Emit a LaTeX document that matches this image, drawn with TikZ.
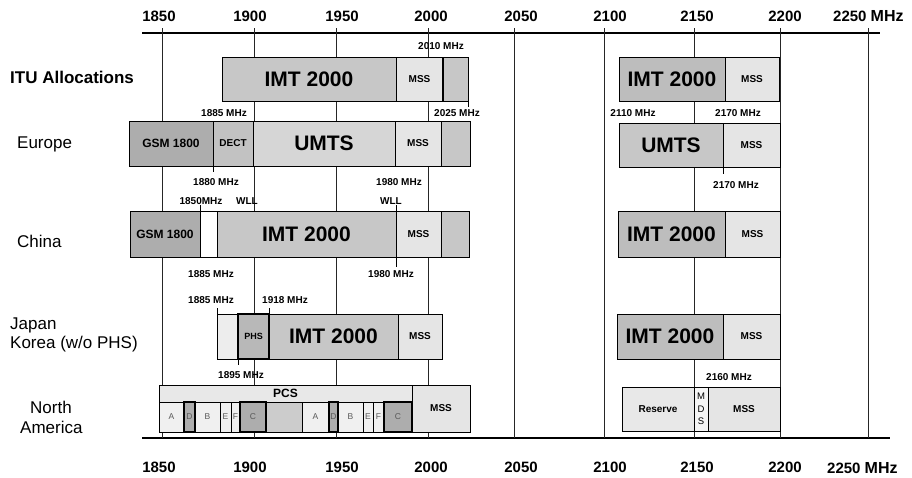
\documentclass[tikz,border=0pt]{standalone}
\usepackage{fontspec}
\setmainfont{Liberation Sans}
\newcommand\bandnode[7]{\node[band,#2,minimum width={#4-#3},minimum height={#6-#5}] (#1) at ({(#3+#4)/2},{(#5+#6)/2}) {#7};}
\begin{document}
\begin{tikzpicture}[x=1pt,y=-1pt,
  band/.style={draw=black,line width=0.8pt,inner sep=0pt,outer sep=0pt,font=\bfseries,align=center},
  bigtxt/.style={font=\fontsize{21}{21}\selectfont\bfseries},
  midtxt/.style={font=\fontsize{12}{12}\selectfont\bfseries},
  smltxt/.style={font=\fontsize{10}{10}\selectfont\bfseries},
  tinytxt/.style={font=\fontsize{8.5}{8.5}\selectfont, text=black!65},
  freq/.style={font=\fontsize{10}{10}\selectfont\bfseries, inner sep=0pt},
  axl/.style={font=\fontsize{15}{15}\selectfont\bfseries, inner sep=0pt},
  rowl/.style={font=\fontsize{17}{17}\selectfont, anchor=base west, inner sep=0pt},
  gridline/.style={line width=0.8pt, black!85},
  axisline/.style={line width=1.3pt},
  sepline/.style={line width=1.6pt},
  tickline/.style={line width=0.6pt},
  fimt/.style={fill=black!22},
  fimtr/.style={fill=black!26},
  fmss/.style={fill=black!10},
  fend/.style={fill=black!22},
  fgsm/.style={fill=black!32},
  fdect/.style={fill=black!24},
  fumts/.style={fill=black!16},
  fwhite/.style={fill=white},
  fphs/.style={fill=black!28},
  flight/.style={fill=black!7},
  fpcs/.style={fill=black!9},
  nal/.style={fill=black!6},
  nad/.style={fill=black!32, line width=1.1pt},
  nam/.style={fill=black!20},
]
\useasboundingbox (0,0) rectangle (912,477);
\fill[white] (0,0) rectangle (912,477);

% axes
\coordinate (axTL) at (142,33); \coordinate (axTR) at (880,33);
\coordinate (axBL) at (142,438); \coordinate (axBR) at (890,438);
\draw[axisline] (axTL) -- (axTR);
\draw[axisline] (axBL) -- (axBR);
\foreach \n/\x in {1850/162,1900/254,1950/336,2000/428,2050/514,2100/604,2150/694,2200/780,2250/868}{
  \coordinate (gt\n) at (\x,28);
  \coordinate (gb\n) at (\x,438);
  \draw[gridline] (gt\n) -- (gb\n);
}
\foreach \n/\x in {1850/159,1900/250,1950/342,2000/431,2050/521,2100/610,2150/697,2200/785}{
  \node[axl] (lt\n) at (\x,16) {\n};
  \node[axl] (lb\n) at (\x,467.5) {\n};
}
\node[axl,anchor=base west] (lt2250) at (833,21) {2250 {\fontsize{16}{16}\selectfont MHz}};
\node[axl,anchor=base west] (lb2250) at (827,473) {2250 {\fontsize{16}{16}\selectfont MHz}};

% row labels
\node[rowl] (rITU) at (10,83) {\bfseries ITU Allocations};
\node[rowl] (rEU) at (17,148) {Europe};
\node[rowl] (rCN) at (17,247) {China};
\node[rowl] (rJP) at (10,329) {Japan};
\node[rowl] (rKR) at (10,348) {Korea (w/o PHS)};
\node[rowl] (rNA1) at (30,413) {North};
\node[rowl] (rNA2) at (20,433) {America};

% ITU
\bandnode{itu1}{fimt,bigtxt}{222}{396}{57}{101}{IMT 2000}
\bandnode{itu2}{fmss,smltxt}{396}{443}{57}{101}{MSS}
\bandnode{itu3}{fend}{443}{468}{57}{101}{}
\draw[sepline] (itu3.north west) -- (itu3.south west);
\bandnode{ituR1}{fimtr,bigtxt}{619}{725}{57}{101}{IMT 2000}
\bandnode{ituR2}{fmss,smltxt}{725}{779}{57}{101}{MSS}
\node[freq] (f2010) at (441,46) {2010 MHz};
\node[freq] (f1885a) at (224,113) {1885 MHz};
\node[freq] (f2025) at (457,113) {2025 MHz};
\node[freq] (f2110) at (633,113) {2110 MHz};
\node[freq] (f2170a) at (738,113) {2170 MHz};
\draw[tickline] (itu3.south east) -- ++(0,6);

% Europe
\bandnode{eu1}{fgsm,midtxt}{129}{213}{121}{166}{GSM 1800}
\bandnode{eu2}{fdect,smltxt}{213}{253}{121}{166}{DECT}
\bandnode{eu3}{fumts,bigtxt}{253}{395}{121}{166}{UMTS}
\bandnode{eu4}{fmss,smltxt}{395}{441}{121}{166}{MSS}
\bandnode{eu5}{fend}{441}{470}{121}{166}{}
\bandnode{euR1}{fimt,bigtxt}{619}{723}{123}{167}{UMTS}
\bandnode{euR2}{fmss,smltxt}{723}{780}{123}{167}{MSS}
\node[freq] (f1880) at (216,182) {1880 MHz};
\node[freq] (f1980a) at (399,182) {1980 MHz};
\node[freq] (f1850) at (201,201) {1850MHz};
\node[freq] (fwll1) at (247,201) {WLL};
\node[freq] (fwll2) at (391,201) {WLL};
\node[freq] (f2170b) at (736,185) {2170 MHz};
\draw[tickline] (eu1.south east) -- ++(0,6);
\draw[tickline] (euR1.south east) -- ++(0,7);

% China
\bandnode{cn1}{fgsm,midtxt}{130}{200}{211}{257}{GSM 1800}
\bandnode{cn2}{fwhite}{200}{217}{211}{257}{}
\bandnode{cn3}{fimt,bigtxt}{217}{396}{211}{257}{IMT 2000}
\bandnode{cn4}{fmss,smltxt}{396}{441}{211}{257}{MSS}
\bandnode{cn5}{fend}{441}{469}{211}{257}{}
\bandnode{cnR1}{fimtr,bigtxt}{618}{725}{211}{257}{IMT 2000}
\bandnode{cnR2}{fmss,smltxt}{725}{780}{211}{257}{MSS}
\node[freq] (f1885b) at (211,274) {1885 MHz};
\node[freq] (f1980b) at (391,274) {1980 MHz};
\draw[tickline] (cn2.north west) -- ++(0,-6);
\draw[tickline] (cn3.north east) -- ++(0,-6);
\draw[tickline] (cn3.south east) -- ++(0,10);

% Japan / Korea
\bandnode{jp1}{flight}{217}{238}{314}{359}{}
\bandnode{jp2}{fphs,font=\fontsize{9}{9}\selectfont\bfseries,line width=1.5pt}{238}{269}{314}{359}{PHS}
\bandnode{jp3}{fimt,bigtxt}{269}{398}{314}{359}{IMT 2000}
\bandnode{jp4}{fmss,smltxt}{398}{442}{314}{359}{MSS}
\bandnode{jpR1}{fimtr,bigtxt}{617}{723}{314}{359}{IMT 2000}
\bandnode{jpR2}{fmss,smltxt}{723}{780}{314}{359}{MSS}
\node[freq] (f1885c) at (211,300) {1885 MHz};
\node[freq] (f1918) at (285,300) {1918 MHz};
\node[freq] (f1895) at (241,375) {1895 MHz};
\draw[tickline] (jp1.north west) -- ++(0,-6);
\draw[tickline] (jp3.north west) -- ++(0,-6);
\draw[tickline] (jp2.south west) -- ++(0,6);

% North America
\bandnode{pcs}{fpcs,midtxt}{159}{412}{385}{402}{PCS}
\foreach \a/\b/\f/\t [count=\i] in {159/184/nal/A,184/195/nad/D,195/220/nal/B,220/231/nal/E,231/240/nal/F,240/266/nad/C,266/302/nam/{},302/329/nal/A,329/338/nad/D,338/363/nal/B,363/373/nal/E,373/384/nal/F,384/412/nad/C}{
  \bandnode{na\i}{\f,tinytxt}{\a}{\b}{402}{432}{\t}
}
\bandnode{naM}{fmss,smltxt}{412}{470}{385}{432}{MSS}
\bandnode{naR1}{fpcs,smltxt}{622}{694}{387}{431}{Reserve}
\bandnode{naR2}{fill=black!4,font=\fontsize{9.5}{12.5}\selectfont}{694}{708}{387}{431}{M\\D\\S}
\bandnode{naR3}{fmss,smltxt}{708}{780}{387}{431}{MSS}
\node[freq] (f2160) at (729,377) {2160 MHz};
\end{tikzpicture}
\end{document}
